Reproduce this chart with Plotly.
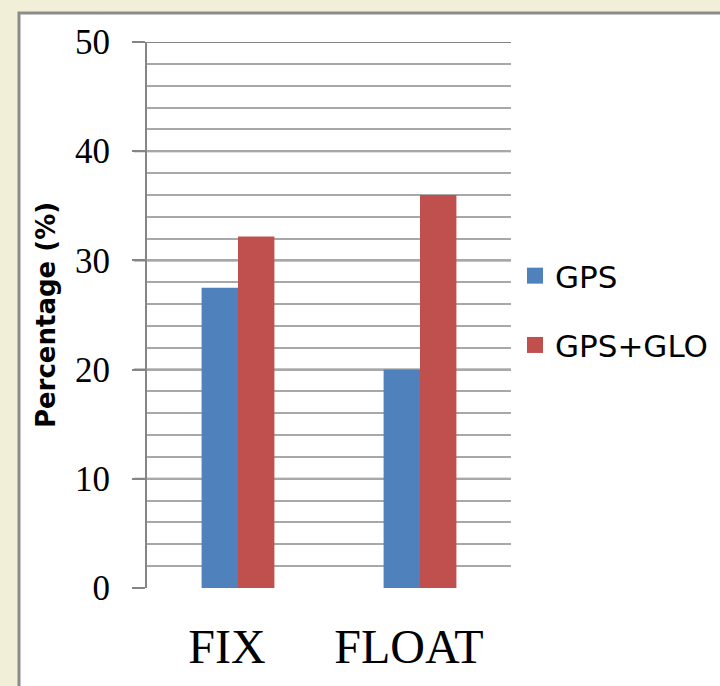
import plotly.graph_objects as go

categories = ["FIX", "FLOAT"]
gps = [27.5, 20.0]
gps_glo = [32.2, 36.0]
series_names = ["GPS", "GPS+GLO"]
y_ticks = [0, 10, 20, 30, 40, 50]

colors = ["#4F81BD", "#C0504D"]

W, H = 720, 686
L, R, T, B = 147, 209, 42, 98
pw = W - L - R
ph = H - T - B

def px_x(x):
    return (x - L) / pw

def px_y(y):
    return (H - B - y) / ph

fig = go.Figure()
for name, vals, col in zip(series_names, [gps, gps_glo], colors):
    fig.add_trace(go.Bar(x=categories, y=vals, name=name, marker_color=col,
                         marker_line_width=0, showlegend=False, legendgroup=name))
for name, col in zip(series_names, colors):
    fig.add_trace(go.Scatter(x=[None], y=[None], mode="markers", name=name,
                             legendgroup=name,
                             marker=dict(symbol="square", size=16, color=col)))

# frame
fig.add_shape(type="rect", xref="paper", yref="paper",
              x0=px_x(19), x1=px_x(760), y0=px_y(740), y1=px_y(13),
              fillcolor="white", line=dict(color="#8c8c8c", width=3), layer="below")

# major gridlines
for v in y_ticks[1:]:
    fig.add_shape(type="line", xref="paper", yref="y", x0=px_x(134), x1=1,
                  y0=v, y1=v, line=dict(color="#858585", width=2), layer="below")

fig.update_layout(
    width=W, height=H,
    margin=dict(l=L, r=R, t=T, b=B, autoexpand=False),
    paper_bgcolor="#F2EFD9",
    plot_bgcolor="white",
    barmode="group", bargap=0.6, bargroupgap=0,
    showlegend=True,
    legend=dict(x=px_x(515), xanchor="left", y=px_y(249), yanchor="top",
                font=dict(family="DejaVu Sans", size=31, color="black"),
                tracegroupgap=26, bgcolor="rgba(0,0,0,0)", itemclick=False),
    xaxis=dict(showgrid=False, showline=False, ticks="", zeroline=False,
               tickfont=dict(family="Liberation Serif", size=48, color="black"),
               ticklabelstandoff=26, ticklabelshift=-11),
    yaxis=dict(range=[0, 50], tickvals=y_ticks, ticks="outside", ticklen=13,
               tickcolor="#858585", tickwidth=2,
               showline=True, linecolor="#858585", linewidth=2,
               showgrid=False, zeroline=False,
               minor=dict(dtick=2, showgrid=True, gridcolor="#a8a8a8", gridwidth=1.5),
               tickfont=dict(family="Liberation Serif", size=35, color="black"),
               ticklabelstandoff=15,
               title=dict(text="Percentage (%)", standoff=12,
                          font=dict(family="DejaVu Sans", size=26, color="black", weight="bold"))),
)

fig.write_html("out.html")
